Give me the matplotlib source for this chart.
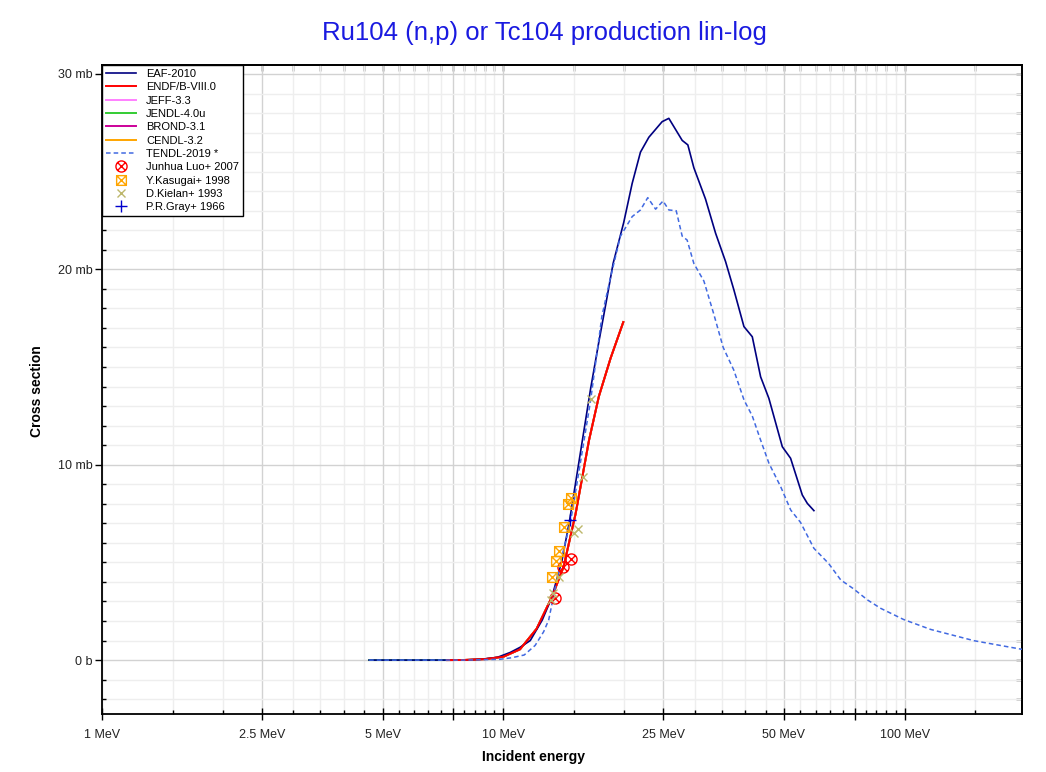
import matplotlib
matplotlib.use('Agg')
import matplotlib.pyplot as plt
import numpy as np
from matplotlib.path import Path
from matplotlib.ticker import FixedLocator, FixedFormatter, NullFormatter

plt.rcParams['font.family'] = ['Liberation Sans', 'DejaVu Sans']

# evaluated libraries (energy in MeV, cross section in mb)
eaf_e = [4.63, 6.0, 8.0, 8.9, 9.66, 10.4, 11.0, 11.67, 12.5, 13.2, 14.0, 14.63, 15.5, 16.5,
         17.3, 18.14, 18.77, 19.95, 20.94, 21.96, 23.04, 24.87, 25.84, 27.9, 28.82, 29.83,
         31.89, 33.79, 35.78, 37.53, 39.76, 41.71, 43.75, 45.87, 49.55, 51.96, 55.57, 57.2, 59.4]
eaf_s = [0, 0, 0, 0.05, 0.14, 0.39, 0.65, 1.0, 2.05, 3.2, 5.1, 7.17, 10.4, 13.9,
         16.3, 18.6, 20.3, 22.4, 24.4, 26.0, 26.76, 27.56, 27.73, 26.6, 26.37, 25.2,
         23.6, 21.85, 20.4, 18.95, 17.07, 16.55, 14.5, 13.4, 10.92, 10.33, 8.45, 8.02, 7.65]

endf_e = [7.24, 8.0, 9.0, 10.0, 11.0, 12.1, 13.22, 14.13, 15.14, 16.35, 17.3, 18.5, 19.9]
endf_s = [0, 0.005, 0.05, 0.17, 0.55, 1.6, 3.24, 4.78, 7.5, 11.26, 13.5, 15.45, 17.3]

jendl_e = [4.63, 7.24, 8.0, 9.0, 10.0, 11.0, 12.1, 13.22, 14.13, 15.14, 16.35, 17.3, 18.5, 19.9]
jendl_s = [0, 0, 0.005, 0.05, 0.17, 0.55, 1.6, 3.24, 4.78, 7.5, 11.26, 13.5, 15.45, 17.3]

tendl_e = [4.63, 6.0, 8.0, 9.8, 10.5, 11.27, 12.0, 12.6, 12.97, 13.86, 14.73, 15.5, 16.5, 17.6,
           18.5, 19.58, 20.94, 21.96, 22.9, 23.95, 25.0, 25.84, 26.96, 27.9, 28.7, 29.83, 31.6,
           33.4, 35.3, 37.5, 39.8, 41.7, 43.75, 45.9, 49.1, 52.0, 55.0, 59.4, 64.6, 69.3, 74.3,
           80.9, 87.1, 99.3, 116, 149, 196]
tendl_s = [0, 0, 0, 0.04, 0.12, 0.26, 0.75, 1.45, 2.05, 4.95, 7.17, 9.9, 13.3, 17.6,
           19.6, 21.7, 22.7, 23.04, 23.67, 23.08, 23.5, 23.04, 23.0, 21.7, 21.5, 20.3, 19.4,
           17.75, 16.0, 14.85, 13.3, 12.5, 11.26, 10.07, 8.87, 7.68, 7.05, 5.72, 4.95, 4.1, 3.67,
           3.07, 2.65, 2.08, 1.57, 0.99, 0.55]

# measurements
luo_e = [13.42, 14.05, 14.78]
luo_s = [3.16, 4.78, 5.17]
kasugai_e = [13.25, 13.52, 13.75, 14.13, 14.5, 14.78]
kasugai_s = [4.27, 5.07, 5.58, 6.83, 7.97, 8.31]
kielan_e = [13.15, 13.29, 13.8, 14.99, 15.31, 15.79, 16.5]
kielan_s = [3.07, 3.41, 4.27, 6.49, 6.69, 9.35, 13.36]
gray_e = [14.63]
gray_s = [7.17]

x_major = [1, 2.5, 5, 7.5, 10, 25, 50, 75, 100]
x_labels = ['1 MeV', '2.5 MeV', '5 MeV', '', '10 MeV', '25 MeV', '50 MeV', '', '100 MeV']
y_major = [0, 10, 20, 30]
y_labels = ['0 b', '10 mb', '20 mb', '30 mb']

# circle with x and square with x markers
d = 0.7071
circle_x = Path.make_compound_path(
    Path.unit_circle(),
    Path([(-d, -d), (d, d), (-d, d), (d, -d)],
         [Path.MOVETO, Path.LINETO, Path.MOVETO, Path.LINETO]))
box_x = Path.make_compound_path(
    Path([(-1, -1), (1, -1), (1, 1), (-1, 1), (-1, -1)],
         [Path.MOVETO, Path.LINETO, Path.LINETO, Path.LINETO, Path.CLOSEPOLY]),
    Path([(-1, -1), (1, 1), (-1, 1), (1, -1)],
         [Path.MOVETO, Path.LINETO, Path.MOVETO, Path.LINETO]))

fig = plt.figure(figsize=(10.46, 7.72), dpi=100)
ax = fig.add_axes([102 / 1046, 58 / 772, 920 / 1046, 649 / 772])
ax.set_xscale('log')

# hidden libraries lie under ENDF/B-VIII.0
ax.plot(endf_e, endf_s, color='#ff80ff', lw=1.4, label='JEFF-3.3', zorder=2)
ax.plot(jendl_e, jendl_s, color='#33cc33', lw=1.4, label='JENDL-4.0u', zorder=2)
ax.plot(endf_e, endf_s, color='#cc0099', lw=1.4, label='BROND-3.1', zorder=2)
ax.plot(endf_e, endf_s, color='#ffa500', lw=1.4, label='CENDL-3.2', zorder=2)
ax.plot(eaf_e, eaf_s, color='#000080', lw=1.2, label='EAF-2010', zorder=3)
ax.plot(endf_e, endf_s, color='#ff0000', lw=1.4, label='ENDF/B-VIII.0', zorder=3)
ax.plot(tendl_e, tendl_s, color='#4169e1', lw=1.1, ls=(0, (3, 2)), label='TENDL-2019 *', zorder=4)

ax.plot(luo_e, luo_s, ls='none', marker=circle_x, ms=8, mfc='none', mec='#ff0000',
        mew=1.0, label='Junhua Luo+ 2007', zorder=5)
ax.plot(kasugai_e, kasugai_s, ls='none', marker=box_x, ms=7, mfc='none', mec='#ffa500',
        mew=1.0, label='Y.Kasugai+ 1998', zorder=5)
ax.plot(kielan_e, kielan_s, ls='none', marker='x', ms=6, mec='#bdb76b', mew=1.0,
        label='D.Kielan+ 1993', zorder=5)
ax.plot(gray_e, gray_s, ls='none', marker='+', ms=8, mec='#0000cd', mew=1.0,
        label='P.R.Gray+ 1966', zorder=5)

ax.set_xlim(1, 196)
ax.set_ylim(-2.76, 30.46)

x_minor = list(np.arange(1.5, 10, 0.5)) + list(np.arange(15, 100, 5)) + [150]
ax.xaxis.set_major_locator(FixedLocator(x_major))
ax.xaxis.set_major_formatter(FixedFormatter(x_labels))
ax.xaxis.set_minor_locator(FixedLocator(x_minor))
ax.xaxis.set_minor_formatter(NullFormatter())
ax.yaxis.set_major_locator(FixedLocator(y_major))
ax.yaxis.set_major_formatter(FixedFormatter(y_labels))
ax.yaxis.set_minor_locator(FixedLocator(list(range(-2, 31))))

ax.grid(which='major', color='#d2d2d2', lw=1.0)
ax.grid(which='minor', color='#eeeeee', lw=1.0)
ax.set_axisbelow(True)

ax.xaxis.set_tick_params(which='major', direction='inout', length=9, width=1.0,
                         labelsize=9, pad=6, labelcolor='#222222')
ax.xaxis.set_tick_params(which='minor', direction='in', length=3, width=1.0)
ax.yaxis.set_tick_params(which='major', direction='out', length=5, width=1.0,
                         labelsize=9, pad=2, labelcolor='#222222')
ax.yaxis.set_tick_params(which='minor', direction='in', length=3, width=1.0)
for s in ax.spines.values():
    s.set_linewidth(1.3)

top = ax.secondary_xaxis('top')
top.xaxis.set_major_locator(FixedLocator(x_major))
top.xaxis.set_minor_locator(FixedLocator(x_minor))
top.xaxis.set_major_formatter(NullFormatter())
top.xaxis.set_minor_formatter(NullFormatter())
top.tick_params(which='both', direction='in', length=4, width=1.0)
top.spines['top'].set_linewidth(1.3)

right = ax.secondary_yaxis('right')
right.yaxis.set_major_locator(FixedLocator(y_major))
right.yaxis.set_minor_locator(FixedLocator(list(range(-2, 31))))
right.yaxis.set_major_formatter(NullFormatter())
right.tick_params(which='both', direction='in', length=4, width=1.0)
right.spines['right'].set_linewidth(1.3)

h, l = ax.get_legend_handles_labels()
order = ['EAF-2010', 'ENDF/B-VIII.0', 'JEFF-3.3', 'JENDL-4.0u', 'BROND-3.1', 'CENDL-3.2',
         'TENDL-2019 *', 'Junhua Luo+ 2007', 'Y.Kasugai+ 1998', 'D.Kielan+ 1993', 'P.R.Gray+ 1966']
hd = dict(zip(l, h))
leg = ax.legend([hd[k] for k in order], order, loc='upper left', bbox_to_anchor=(0, 1),
                borderaxespad=0, fontsize=8, handlelength=2.7, handletextpad=0.9,
                labelspacing=0.3, borderpad=0.35, fancybox=False, framealpha=1,
                edgecolor='black')
leg.get_frame().set_linewidth(1.0)
leg.set_zorder(10)

fig.text(544 / 1046, 1 - 33 / 772, 'Ru104 (n,p) or Tc104 production lin-log',
         ha='center', va='center', fontsize=18.5, color='#1a1ae0')
fig.text(534 / 1046, 1 - 757 / 772, 'Incident energy', ha='center', va='center',
         fontsize=10, fontweight='bold')
fig.text(37 / 1046, 1 - 391 / 772, 'Cross section', ha='center', va='center',
         fontsize=10, fontweight='bold', rotation=90)

fig.savefig('out.png', dpi=100)
plt.close(fig)
